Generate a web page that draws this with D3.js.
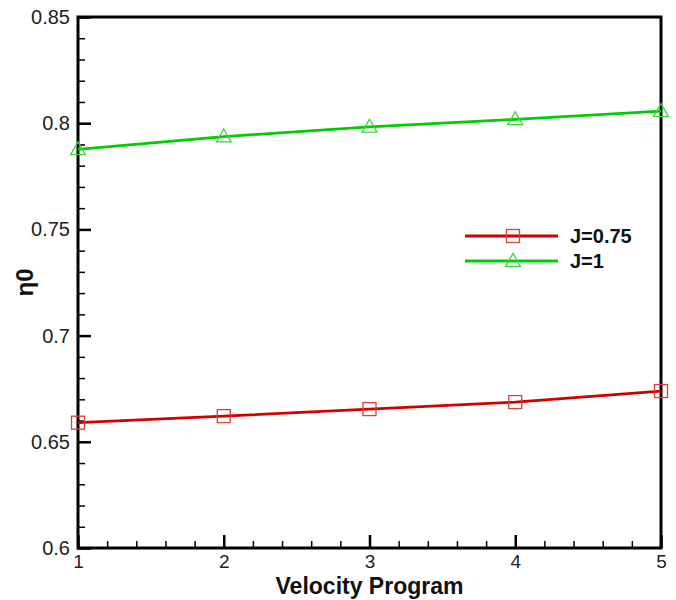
<!DOCTYPE html>
<html>
<head>
<meta charset="utf-8">
<script src="https://cdn.jsdelivr.net/npm/d3@7"></script>
<style>
  body { margin: 0; background: white; }
  svg { font-family: "Liberation Sans", Arial, sans-serif; }
</style>
</head>
<body>
<div id="chart"></div>
<script>
// data
const programs = [1, 2, 3, 4, 5]
const j075 = [0.659, 0.6621, 0.6654, 0.6687, 0.6739]
const j1 = [0.7877, 0.7937, 0.7983, 0.8018, 0.8057]
const yTicks = [0.6, 0.65, 0.7, 0.75, 0.8, 0.85]
const seriesNames = ['J=0.75', 'J=1']

const W = 676, H = 600
const m = { left: 78, top: 17, right: 15, bottom: 52 }

const svg = d3.select('#chart').append('svg')
  .attr('width', W)
  .attr('height', H)

const x = d3.scaleLinear().domain([1, 5]).range([m.left, W - m.right])
const y = d3.scaleLinear().domain([0.6, 0.85]).range([H - m.bottom, m.top])

// minor ticks first
const xMinor = d3.range(1, 5.001, 0.2)
const yMinor = d3.range(0.6, 0.8501, 0.01)

svg.append('g')
  .attr('transform', `translate(0,${y(0.6)})`)
  .call(d3.axisBottom(x).tickValues(xMinor).tickSize(-7).tickFormat(''))
  .call(g => g.selectAll('line').attr('stroke-width', 1.5))
  .call(g => g.select('.domain').remove())

svg.append('g')
  .attr('transform', `translate(${x(1)},0)`)
  .call(d3.axisLeft(y).tickValues(yMinor).tickSize(-7).tickFormat(''))
  .call(g => g.selectAll('line').attr('stroke-width', 1.5))
  .call(g => g.select('.domain').remove())

// major ticks + labels
svg.append('g')
  .attr('transform', `translate(0,${y(0.6)})`)
  .call(d3.axisBottom(x).tickValues(programs).tickSize(-13).tickFormat(d3.format('d')))
  .call(g => g.selectAll('line').attr('stroke-width', 2.5))
  .call(g => g.selectAll('text').attr('font-size', 19).attr('fill', '#222').attr('dy', '0.71em').attr('y', 7))
  .call(g => g.select('.domain').remove())

svg.append('g')
  .attr('transform', `translate(${x(1)},0)`)
  .call(d3.axisLeft(y).tickValues(yTicks).tickSize(-13).tickFormat(d => +d.toFixed(2)))
  .call(g => g.selectAll('line').attr('stroke-width', 2.5))
  .call(g => g.selectAll('text').attr('font-size', 20).attr('fill', '#222').attr('x', -8))
  .call(g => g.select('.domain').remove())

// frame
svg.append('rect')
  .attr('x', x(1)).attr('y', y(0.85))
  .attr('width', x(5) - x(1)).attr('height', y(0.6) - y(0.85))
  .attr('fill', 'none').attr('stroke', 'black').attr('stroke-width', 3)

const line = d3.line()
  .x((d, i) => x(programs[i]))
  .y(d => y(d))

const tri = d3.symbol().type(d3.symbolTriangle).size(95)

svg.append('path').datum(j075)
  .attr('d', line).attr('fill', 'none')
  .attr('stroke', '#d00000').attr('stroke-width', 2.8)

svg.append('path').datum(j1)
  .attr('d', line).attr('fill', 'none')
  .attr('stroke', '#00cc00').attr('stroke-width', 2.8)

svg.selectAll('.sq').data(j075).enter()
  .append('rect')
  .attr('class', 'sq')
  .attr('x', (d, i) => x(programs[i]) - 6.5)
  .attr('y', d => y(d) - 6.5)
  .attr('width', 13).attr('height', 13)
  .attr('fill', 'none').attr('stroke', '#e33a3a').attr('stroke-width', 1.3)

svg.selectAll('.tr').data(j1).enter()
  .append('path')
  .attr('class', 'tr')
  .attr('d', tri)
  .attr('transform', (d, i) => `translate(${x(programs[i])},${y(d) + 1})`)
  .attr('fill', 'none').attr('stroke', '#3ad43a').attr('stroke-width', 1.3)

// legend
const legend = svg.append('g')
const colors = ['#d00000', '#00cc00']
const marks = ['#e33a3a', '#3ad43a']
seriesNames.forEach((name, i) => {
  const ly = 236 + i * 25
  legend.append('line')
    .attr('x1', 465).attr('x2', 558).attr('y1', ly).attr('y2', ly)
    .attr('stroke', colors[i]).attr('stroke-width', 2.8)
  if (i === 0) {
    legend.append('rect')
      .attr('x', 513 - 6.5).attr('y', ly - 6.5).attr('width', 13).attr('height', 13)
      .attr('fill', 'none').attr('stroke', marks[i]).attr('stroke-width', 1.3)
  } else {
    legend.append('path').attr('d', tri)
      .attr('transform', `translate(513,${ly + 1})`)
      .attr('fill', 'none').attr('stroke', marks[i]).attr('stroke-width', 1.3)
  }
  legend.append('text')
    .attr('x', 570).attr('y', ly).attr('dy', '0.36em')
    .attr('font-size', 20).attr('font-weight', 'bold').attr('fill', '#111')
    .text(name)
})

// axis titles
svg.append('text')
  .attr('x', (x(1) + x(5)) / 2).attr('y', 594)
  .attr('text-anchor', 'middle')
  .attr('font-size', 23).attr('font-weight', 'bold').attr('fill', '#111')
  .text('Velocity Program')

svg.append('text')
  .attr('transform', `translate(33,${(y(0.6) + y(0.85)) / 2}) rotate(-90)`)
  .attr('text-anchor', 'middle')
  .attr('font-size', 24).attr('font-weight', 'bold').attr('fill', '#111')
  .text('η0')
</script>
</body>
</html>
